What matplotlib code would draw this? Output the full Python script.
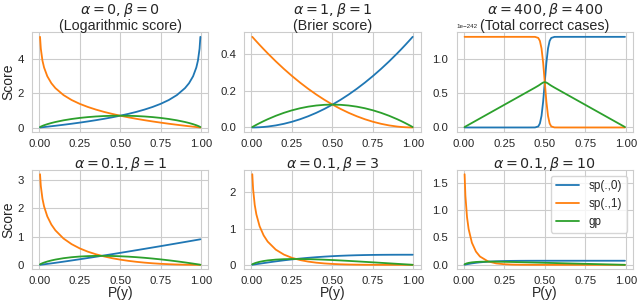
import numpy as np
import matplotlib
matplotlib.use("Agg")
import matplotlib.pyplot as plt
import seaborn as sns

# probability grid shared by most panels
p = [0.005, 0.01, 0.02, 0.03, 0.05, 0.075, 0.1, 0.15, 0.2, 0.25, 0.3, 0.35, 0.4, 0.45, 0.5,
     0.55, 0.6, 0.65, 0.7, 0.75, 0.8, 0.85, 0.9, 0.925, 0.95, 0.97, 0.98, 0.99, 0.995]

# alpha=0, beta=0 (log score)
log_sp1 = [5.298, 4.605, 3.912, 3.507, 2.996, 2.590, 2.303, 1.897, 1.609, 1.386, 1.204, 1.050, 0.916, 0.799, 0.693,
           0.598, 0.511, 0.431, 0.357, 0.288, 0.223, 0.163, 0.105, 0.078, 0.051, 0.030, 0.020, 0.010, 0.005]
log_sp0 = log_sp1[::-1]
log_gp = [0.0315, 0.0560, 0.0980, 0.1348, 0.1985, 0.2664, 0.3251, 0.4227, 0.5004, 0.5623, 0.6109, 0.6474, 0.6730, 0.6881, 0.6931,
          0.6881, 0.6730, 0.6474, 0.6109, 0.5623, 0.5004, 0.4227, 0.3251, 0.2664, 0.1985, 0.1348, 0.0980, 0.0560, 0.0315]

# alpha=1, beta=1 (Brier)
brier_sp0 = [0.0000125, 0.00005, 0.0002, 0.00045, 0.00125, 0.00281, 0.005, 0.01125, 0.02, 0.03125, 0.045, 0.06125, 0.08, 0.10125, 0.125,
             0.15125, 0.18, 0.21125, 0.245, 0.28125, 0.32, 0.36125, 0.405, 0.42781, 0.45125, 0.47045, 0.4802, 0.49005, 0.49501]
brier_sp1 = brier_sp0[::-1]
brier_gp = [0.00249, 0.00495, 0.0098, 0.01455, 0.02375, 0.03469, 0.045, 0.06375, 0.08, 0.09375, 0.105, 0.11375, 0.12, 0.12375, 0.125,
            0.12375, 0.12, 0.11375, 0.105, 0.09375, 0.08, 0.06375, 0.045, 0.03469, 0.02375, 0.01455, 0.0098, 0.00495, 0.00249]

# alpha=400, beta=400 (total correct cases), in units of 1e-242
p_tcc = [0.005, 0.2, 0.4, 0.44, 0.46, 0.47, 0.48, 0.49, 0.5, 0.51, 0.52, 0.53, 0.54, 0.56, 0.6, 0.8, 0.995]
tcc_sp0 = [0.0, 0.0, 0.0, 0.0005, 0.0157, 0.0596, 0.1713, 0.380, 0.665, 0.950, 1.159, 1.270, 1.314, 1.3296, 1.33, 1.33, 1.33]
tcc_sp1 = tcc_sp0[::-1]
tcc_gp = [0.00665, 0.266, 0.532, 0.5853, 0.6131, 0.6287, 0.6453, 0.6593, 0.665,
          0.6593, 0.6453, 0.6287, 0.6131, 0.5853, 0.532, 0.266, 0.00665]

# alpha=0.1, beta=1
b1_sp0 = [0.00268, 0.00574, 0.0123, 0.0192, 0.0337, 0.0526, 0.0722, 0.1128, 0.1548, 0.1979, 0.2418, 0.2865, 0.3318, 0.3777, 0.4241,
          0.4710, 0.5183, 0.5660, 0.6141, 0.6625, 0.7112, 0.7603, 0.8096, 0.8344, 0.8592, 0.8791, 0.8891, 0.8991, 0.9041]
b1_sp1 = [3.2066, 2.7866, 2.3412, 2.0671, 1.7136, 1.4255, 1.2201, 0.9317, 0.7327, 0.5828, 0.4667, 0.3744, 0.2987, 0.2356, 0.1847,
          0.1422, 0.1072, 0.0786, 0.0554, 0.0370, 0.0228, 0.0124, 0.0053, 0.00295, 0.00125, 0.00045, 0.0002, 0.00005, 0.0000125]
b1_gp = [0.0187, 0.0336, 0.0589, 0.0806, 0.1177, 0.1556, 0.1870, 0.2356, 0.2704, 0.2941, 0.3093, 0.3173, 0.3186, 0.3138, 0.3044,
         0.2902, 0.2716, 0.2492, 0.2230, 0.1934, 0.1605, 0.1246, 0.0857, 0.0653, 0.0442, 0.0268, 0.0180, 0.0090, 0.0045]

# alpha=0.1, beta=3
b3_sp0 = [0.00266, 0.00568, 0.01204, 0.01861, 0.03195, 0.04859, 0.0649, 0.09597, 0.12455, 0.15043, 0.17353, 0.19387, 0.21159, 0.22679, 0.23958,
          0.25017, 0.25872, 0.26544, 0.27052, 0.27419, 0.27667, 0.27817, 0.27897, 0.27915, 0.27925, 0.27929, 0.27929, 0.27929, 0.27929]
b3_sp1 = [2.4997, 2.0863, 1.6528, 1.3932, 1.0658, 0.8125, 0.6410, 0.4195, 0.2832, 0.1935, 0.1322, 0.0896, 0.0599, 0.0394, 0.0251,
          0.0155, 0.0091, 0.0050, 0.0024, 0.0011, 0.00044, 0.00013, 0.00003, 0.00001, 0.0, 0.0, 0.0, 0.0, 0.0]
b3_gp = [0.01515, 0.0265, 0.0449, 0.0599, 0.0836, 0.1059, 0.1225, 0.1445, 0.1563, 0.1612, 0.1611, 0.1574, 0.1509, 0.1425, 0.1323,
         0.1211, 0.1090, 0.0962, 0.0828, 0.0694, 0.0557, 0.0418, 0.0279, 0.0209, 0.0140, 0.0084, 0.0056, 0.0028, 0.0014]

# alpha=0.1, beta=10
b10_sp0 = [0.002613, 0.005473, 0.011197, 0.016701, 0.026731, 0.03734, 0.045945, 0.05825, 0.06577, 0.07015, 0.07261, 0.07393, 0.0746, 0.07492, 0.07507,
           0.07513, 0.07515, 0.07516, 0.07516, 0.07516, 0.07516, 0.07516, 0.07516, 0.07516, 0.07516, 0.07516, 0.07516, 0.07516, 0.07516]
b10_sp1 = [1.6555, 1.2626, 0.8710, 0.6531, 0.4053, 0.2429, 0.1519, 0.0629, 0.0266, 0.0113, 0.00471, 0.00185, 0.0007, 0.00024, 0.00008,
           0.00002, 0.000006, 0.0, 0.0, 0.0, 0.0, 0.0, 0.0, 0.0, 0.0, 0.0, 0.0, 0.0, 0.0]
b10_gp = [0.01088, 0.01804, 0.02839, 0.03579, 0.04566, 0.05276, 0.05654, 0.05895, 0.05794, 0.05544, 0.05224, 0.0487, 0.04504, 0.04132, 0.03758,
          0.03382, 0.03006, 0.02631, 0.02255, 0.01879, 0.01503, 0.01127, 0.00752, 0.00564, 0.00376, 0.00225, 0.0015, 0.00075, 0.00038]

titles = [r"$\alpha = 0, \beta = 0$" + "\n(Logarithmic score)",
          r"$\alpha = 1, \beta = 1$" + "\n(Brier score)",
          r"$\alpha = 400, \beta = 400$" + "\n(Total correct cases)",
          r"$\alpha = 0.1, \beta = 1$",
          r"$\alpha = 0.1, \beta = 3$",
          r"$\alpha = 0.1, \beta = 10$"]

panels = [
    (p, log_sp0, log_sp1, log_gp),
    (p, brier_sp0, brier_sp1, brier_gp),
    (p_tcc, np.array(tcc_sp0) * 1e-242, np.array(tcc_sp1) * 1e-242, np.array(tcc_gp) * 1e-242),
    (p, b1_sp0, b1_sp1, b1_gp),
    (p, b3_sp0, b3_sp1, b3_gp),
    (p, b10_sp0, b10_sp1, b10_gp),
]

sns.set_style("whitegrid")
plt.rcParams['font.family'] = ['Liberation Sans', 'DejaVu Sans']
plt.rcParams['mathtext.fontset'] = 'dejavusans'

fig, axes = plt.subplots(2, 3, figsize=(6.4, 3.02), dpi=100)
fig.subplots_adjust(left=0.05, right=0.989, top=0.893, bottom=0.108, wspace=0.2035, hspace=0.378)
for i, ax in enumerate(axes.flat):
    x, s0, s1, g = panels[i]
    ax.plot(x, s0, color='tab:blue', lw=1.3, label='sp(.,0)')
    ax.plot(x, s1, color='tab:orange', lw=1.3, label='sp(.,1)')
    ax.plot(x, g, color='tab:green', lw=1.3, label='gp')
    ax.set_title(titles[i], fontsize=10.3, pad=1.5, linespacing=1.05)
    ax.set_xticks([0, 0.25, 0.5, 0.75, 1.0])
    ax.set_xticklabels(['0.00', '0.25', '0.50', '0.75', '1.00'])
    ax.tick_params(labelsize=8.2)
    ax.tick_params(axis='x', pad=1.5)
    ax.tick_params(axis='y', pad=2.5)
    ax.yaxis.get_offset_text().set_fontsize(4.5)
    if i % 3 == 0:
        ax.set_ylabel('Score', fontsize=10, labelpad=1.5)
    if i >= 3:
        ax.set_xlabel('P(y)', fontsize=10, labelpad=0)

axes[1, 2].legend(loc='upper right', fontsize=8.5, frameon=True)
fig.savefig('out.png', dpi=100)
